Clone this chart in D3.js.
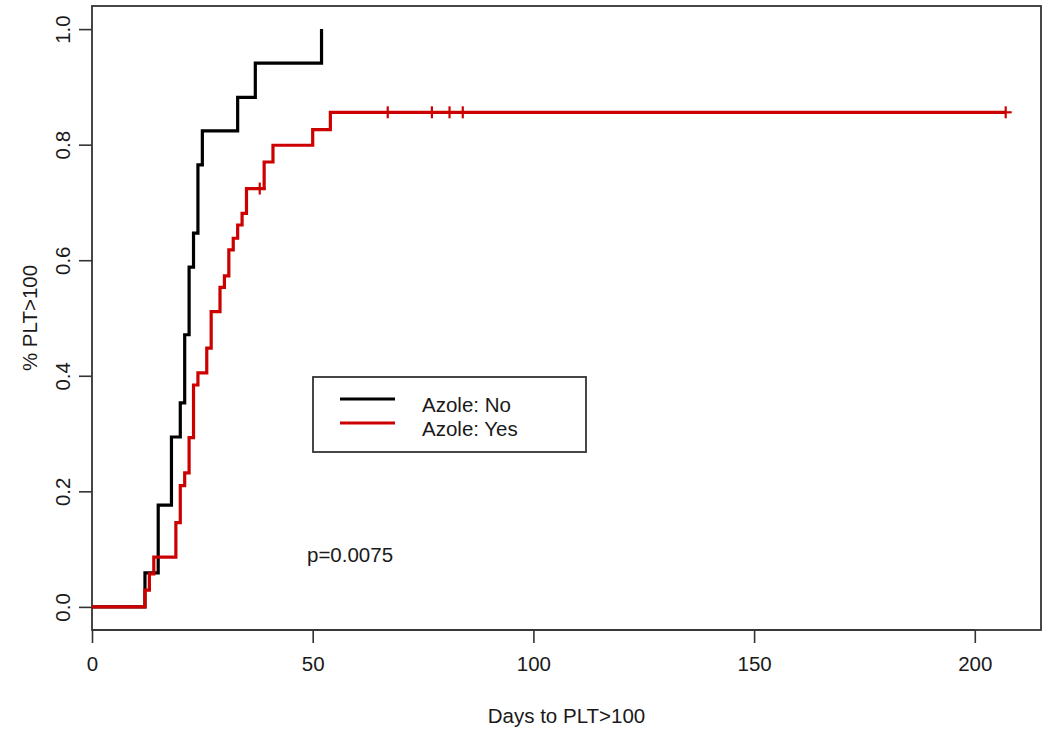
<!DOCTYPE html>
<html>
<head>
<meta charset="utf-8">
<script src="https://cdn.jsdelivr.net/npm/d3@7"></script>
<style>
  html, body { margin: 0; padding: 0; background: #fff; }
  svg { display: block; }
  text { font-family: "Liberation Sans", Arial, sans-serif; fill: #1a1a1a; }
</style>
</head>
<body>
<svg id="chart" width="1050" height="734"></svg>
<script>
// ---- data ----
const noTimes   = [12, 15, 18, 20, 21, 22, 23, 24, 25, 33, 37, 52];
const noValues  = [0.059, 0.176, 0.294, 0.353, 0.471, 0.588, 0.647, 0.765, 0.824, 0.882, 0.941, 1.0];

const yesTimes  = [12, 13, 14, 19, 20, 21, 22, 23, 24, 26, 27, 29, 30, 31, 32, 33, 34, 35, 39, 41, 50, 54];
const yesValues = [0.029, 0.057, 0.086, 0.146, 0.21, 0.232, 0.293, 0.384, 0.405, 0.448, 0.511, 0.553, 0.573, 0.618, 0.638, 0.661, 0.681, 0.724, 0.77, 0.799, 0.826, 0.856];
const yesCensorTimes = [38, 67, 77, 81, 84, 207];

const xTicks = [0, 50, 100, 150, 200];
const yTicks = [0.0, 0.2, 0.4, 0.6, 0.8, 1.0];
const seriesNames = ["Azole: No", "Azole: Yes"];
const seriesColors = ["#000000", "#cc0000"];
const pValueLabel = "p=0.0075";
const xTitle = "Days to PLT>100";
const yTitle = "% PLT>100";

// ---- layout ----
const FS = "20.5px";
const svg = d3.select("#chart");
const box = { left: 92, right: 1041, top: 6, bottom: 630 };
const x = d3.scaleLinear().domain([0, 215]).range([box.left, box.right]);
const y = d3.scaleLinear().domain([-0.04, 1.04]).range([box.bottom, box.top]);

function valueAt(times, values, t) {
  let v = 0;
  for (let i = 0; i < times.length; i++) if (times[i] <= t) v = values[i];
  return v;
}

// ---- axes ----
const axisColor = "#333";
const xAxis = svg.append("g")
  .attr("transform", `translate(0,${box.bottom})`)
  .call(d3.axisBottom(x).tickValues(xTicks).tickFormat(d3.format("d")).tickSize(13).tickPadding(13));
const yAxis = svg.append("g")
  .attr("transform", `translate(${box.left},0)`)
  .call(d3.axisLeft(y).tickValues(yTicks).tickFormat(d3.format(".1f")).tickSize(13));

[xAxis, yAxis].forEach(g => {
  g.selectAll(".domain").remove();
  g.selectAll(".tick line").attr("stroke", axisColor).attr("stroke-width", 1.6);
  g.selectAll(".tick text").style("font-size", FS).attr("fill", "#1a1a1a")
    .style("font-family", '"Liberation Sans", Arial, sans-serif');
});
yAxis.selectAll(".tick text")
  .attr("transform", "rotate(-90)")
  .attr("x", 0).attr("y", -22).attr("dy", 0)
  .attr("text-anchor", "middle");

svg.append("line")
  .attr("x1", x(xTicks[0])).attr("x2", x(xTicks[xTicks.length - 1]))
  .attr("y1", box.bottom).attr("y2", box.bottom)
  .attr("stroke", axisColor).attr("stroke-width", 1.6);

svg.append("rect")
  .attr("x", box.left).attr("y", box.top)
  .attr("width", box.right - box.left).attr("height", box.bottom - box.top)
  .attr("fill", "none").attr("stroke", axisColor).attr("stroke-width", 1.8);

// titles
svg.append("text")
  .attr("x", (box.left + box.right) / 2).attr("y", 723)
  .attr("text-anchor", "middle").style("font-size", FS)
  .text(xTitle);
svg.append("text")
  .attr("transform", `translate(37,${(box.top + box.bottom) / 2}) rotate(-90)`)
  .attr("text-anchor", "middle").style("font-size", FS)
  .text(yTitle);

// ---- curves ----
const line = d3.line().x(d => x(d[0])).y(d => y(d[1])).curve(d3.curveStepAfter);

function curvePoints(times, values, endTime) {
  const pts = [[0, 0]];
  times.forEach((t, i) => pts.push([t, values[i]]));
  if (endTime !== undefined && endTime > times[times.length - 1]) pts.push([endTime, values[values.length - 1]]);
  return pts;
}

svg.append("path")
  .datum(curvePoints(noTimes, noValues))
  .attr("d", line)
  .attr("fill", "none").attr("stroke", seriesColors[0]).attr("stroke-width", 3.2);

svg.append("path")
  .datum(curvePoints(yesTimes, yesValues, d3.max(yesCensorTimes)))
  .attr("d", line)
  .attr("fill", "none").attr("stroke", seriesColors[1]).attr("stroke-width", 3.2);

// censor marks (+)
const cs = 6;
const censorG = svg.append("g").attr("stroke", seriesColors[1]).attr("stroke-width", 2.2);
yesCensorTimes.forEach(t => {
  const cx = x(t), cy = y(valueAt(yesTimes, yesValues, t));
  censorG.append("line").attr("x1", cx).attr("x2", cx).attr("y1", cy - cs).attr("y2", cy + cs);
  censorG.append("line").attr("x1", cx - cs).attr("x2", cx + cs).attr("y1", cy).attr("y2", cy);
});

// ---- legend ----
const lg = { x: 313, y: 377, w: 273, h: 75 };
svg.append("rect")
  .attr("x", lg.x).attr("y", lg.y).attr("width", lg.w).attr("height", lg.h)
  .attr("fill", "#fff").attr("stroke", axisColor).attr("stroke-width", 1.8);
seriesNames.forEach((name, i) => {
  const ly = lg.y + 22 + i * 24;
  svg.append("line")
    .attr("x1", lg.x + 27).attr("x2", lg.x + 82)
    .attr("y1", ly).attr("y2", ly)
    .attr("stroke", seriesColors[i]).attr("stroke-width", 3.2);
  svg.append("text")
    .attr("x", lg.x + 109).attr("y", ly + 5)
    .attr("dominant-baseline", "central")
    .style("font-size", FS)
    .text(name);
});

// p-value annotation
svg.append("text")
  .attr("x", 307).attr("y", 554)
  .attr("dominant-baseline", "central")
  .style("font-size", FS)
  .text(pValueLabel);
</script>
</body>
</html>
